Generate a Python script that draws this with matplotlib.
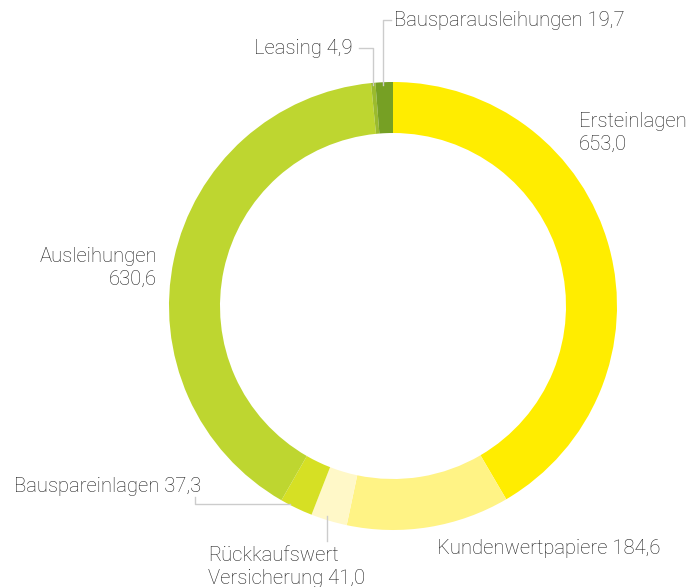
import numpy as np
import matplotlib
matplotlib.use("Agg")
import matplotlib.pyplot as plt

categories = ["Ersteinlagen", "Kundenwertpapiere", "Rückkaufswert\nVersicherung",
              "Bauspareinlagen", "Ausleihungen", "Leasing", "Bausparausleihungen"]
values = [653.0, 184.6, 41.0, 37.3, 630.6, 4.9, 19.7]
value_labels = ["653,0", "184,6", "41,0", "37,3", "630,6", "4,9", "19,7"]
colors = ["#FFED00", "#FFF385", "#FFF8C8", "#D6E024", "#BED630", "#9BBB2E", "#76A024"]

W, H = 698, 587
fig = plt.figure(figsize=(W / 100, H / 100), dpi=100)
ax = fig.add_axes([0, 0, 1, 1])

cx, cy = 393, H - 306
R = 224
width = 51
wedges, _ = ax.pie(values, colors=colors, startangle=90, counterclock=False,
                   center=(cx, cy), radius=R, frame=True,
                   wedgeprops=dict(width=width, linewidth=0))
ax.set_xlim(0, W)
ax.set_ylim(0, H)
ax.set_aspect("equal")
ax.axis("off")

font = dict(family=["Roboto", "DejaVu Sans"], fontsize=14.6, color="#1e1e1e", fontweight="light")
lc = "#CCCCCC"

def Y(p):
    return H - p

# Ersteinlagen
ax.text(579, Y(133), categories[0] + "\n" + value_labels[0], ha="left", va="center", linespacing=1.25, **font)
# Ausleihungen
ax.text(157, Y(268), categories[4] + "\n" + value_labels[4], ha="right", va="center", linespacing=1.25, **font)
# Kundenwertpapiere
ax.text(437, Y(549), categories[1] + " " + value_labels[1], ha="left", va="center", **font)
# Rückkaufswert
ax.text(208, Y(567), categories[2] + " " + value_labels[2], ha="left", va="center", linespacing=1.25, **font)
ax.plot([327, 327], [Y(516), Y(541)], color=lc, lw=1)
# Bauspareinlagen
ax.text(14, Y(487), categories[3] + " " + value_labels[3], ha="left", va="center", **font)
ax.plot([195, 195, 290], [Y(497), Y(504), Y(504)], color=lc, lw=1)
# Leasing
ax.text(353, Y(48), categories[5] + " " + value_labels[5], ha="right", va="center", **font)
ax.plot([359, 373, 373], [Y(48), Y(48), Y(85)], color=lc, lw=1)
# Bausparausleihungen
ax.text(394, Y(20), categories[6] + " " + value_labels[6], ha="left", va="center", **font)
ax.plot([391, 383, 383], [Y(20), Y(20), Y(85)], color=lc, lw=1)

fig.savefig("out.png", dpi=100)
